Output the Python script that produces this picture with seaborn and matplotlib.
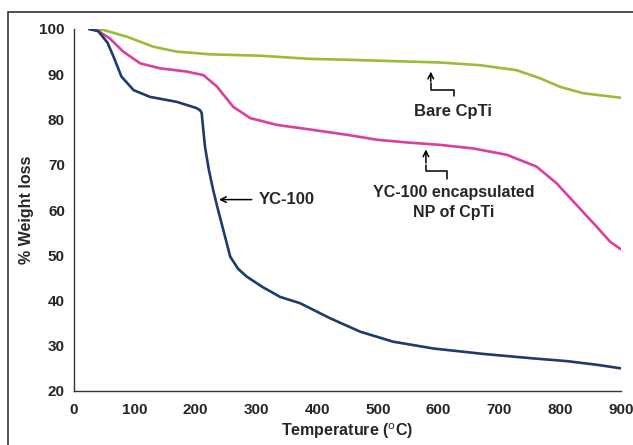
import matplotlib
matplotlib.use("Agg")
import matplotlib.pyplot as plt
import seaborn as sns
import pandas as pd
from matplotlib.patches import Rectangle

# --- data ---
temp_bare = [25, 48, 87, 130, 169, 224, 306, 388, 450, 500, 602, 668, 728, 767, 800, 838, 900]
wt_bare = [100, 99.8, 98.3, 96.1, 95.0, 94.4, 94.1, 93.4, 93.2, 93.0, 92.6, 92.0, 90.9, 89.1, 87.2, 85.8, 84.8]

temp_np = [25, 37, 59, 81, 109, 142, 185, 213, 235, 262, 290, 334, 388, 450, 500, 550, 602, 657, 712, 761, 794, 827, 860, 882, 900]
wt_np = [100, 99.8, 97.9, 95.0, 92.4, 91.3, 90.6, 89.8, 87.3, 82.8, 80.3, 78.8, 77.8, 76.6, 75.5, 74.9, 74.4, 73.6, 72.2, 69.6, 65.9, 61.1, 56.3, 53.0, 51.3]

temp_yc = [25, 40, 55, 65, 78, 98, 125, 169, 200, 207, 210, 215.5, 222, 229, 235, 243.5, 257, 270, 284, 310, 339, 372, 421, 471, 525, 591, 673, 756, 811, 860, 900]
wt_yc = [100, 99.5, 97.0, 93.9, 89.5, 86.5, 85.0, 83.9, 82.6, 82.1, 81.5, 74.0, 68.8, 64.4, 61.1, 56.7, 49.7, 47.0, 45.3, 43.0, 40.8, 39.4, 36.1, 33.1, 30.9, 29.4, 28.2, 27.2, 26.6, 25.8, 25.0]

series_names = ["Bare CpTi", "YC-100 encapsulated NP of CpTi", "YC-100"]
x_ticks = [0, 100, 200, 300, 400, 500, 600, 700, 800, 900]
y_ticks = [20, 30, 40, 50, 60, 70, 80, 90, 100]

df = pd.concat([
    pd.DataFrame({"T": temp_bare, "W": wt_bare, "s": series_names[0]}),
    pd.DataFrame({"T": temp_np, "W": wt_np, "s": series_names[1]}),
    pd.DataFrame({"T": temp_yc, "W": wt_yc, "s": series_names[2]}),
], ignore_index=True)

colors = {series_names[0]: "#9BBB3B", series_names[1]: "#D9409E", series_names[2]: "#1F3B6B"}

sns.set_style("white")
plt.rcParams["font.family"] = ["Liberation Sans", "DejaVu Sans"]

fig = plt.figure(figsize=(6.33, 4.45), dpi=100)
ax = fig.add_axes([74/633, 1-391/445, (621-74)/633, (391-29)/445])

sns.lineplot(data=df, x="T", y="W", hue="s", palette=colors, sort=False,
             estimator=None, linewidth=1.9, legend=False, ax=ax,
             solid_joinstyle="round", solid_capstyle="round")

ax.set_xlim(0, 900)
ax.set_ylim(20, 100)
ax.set_xticks(x_ticks)
ax.set_yticks(y_ticks)
for lab in ax.get_xticklabels() + ax.get_yticklabels():
    lab.set_fontweight("bold")
    lab.set_fontsize(11)
ax.tick_params(direction="out", length=4.5, width=1, color="#333333", pad=2)
ax.tick_params(axis="x", pad=4)
for sp in ["top", "right"]:
    ax.spines[sp].set_visible(False)
for sp in ["left", "bottom"]:
    ax.spines[sp].set_color("#333333")
    ax.spines[sp].set_linewidth(1)

ax.set_xlabel("Temperature ($^{\\mathrm{o}}$C)", fontsize=11.5, fontweight="bold", labelpad=3)
ax.set_ylabel("% Weight loss", fontsize=11.5, fontweight="bold", labelpad=4)

# annotations
arrow_kw = dict(arrowstyle="->", color="black", lw=1.1)
# Bare CpTi elbow arrow
ax.plot([626, 626, 587, 587], [85.1, 86.6, 86.6, 88.0], color="black", lw=1.1)
ax.annotate("", xy=(587, 91.2), xytext=(587, 87.8), arrowprops=arrow_kw)
ax.text(624, 81.8, "Bare CpTi", ha="center", va="center", fontsize=12, fontweight="bold")

# Encapsulated elbow arrow
ax.plot([614, 614, 579, 579], [66.8, 68.6, 68.6, 70.0], color="black", lw=1.1)
ax.annotate("", xy=(579, 74.0), xytext=(579, 69.8), arrowprops=arrow_kw)
ax.text(624, 63.8, "YC-100 encapsulated", ha="center", va="center", fontsize=11.5, fontweight="bold")
ax.text(624, 59.5, "NP of CpTi", ha="center", va="center", fontsize=11.5, fontweight="bold")

# YC-100 arrow
ax.annotate("", xy=(234, 62.3), xytext=(297, 62.3), arrowprops=arrow_kw)
ax.text(304, 62.3, "YC-100", ha="left", va="center", fontsize=12, fontweight="bold")

# outer frame (cropped at right and bottom)
fig.patches.append(Rectangle((8/633, -0.2), 1.5, 1-12/445+0.2, transform=fig.transFigure,
                             fill=False, edgecolor="#333333", lw=1.2))

fig.savefig("out.png", dpi=100)
